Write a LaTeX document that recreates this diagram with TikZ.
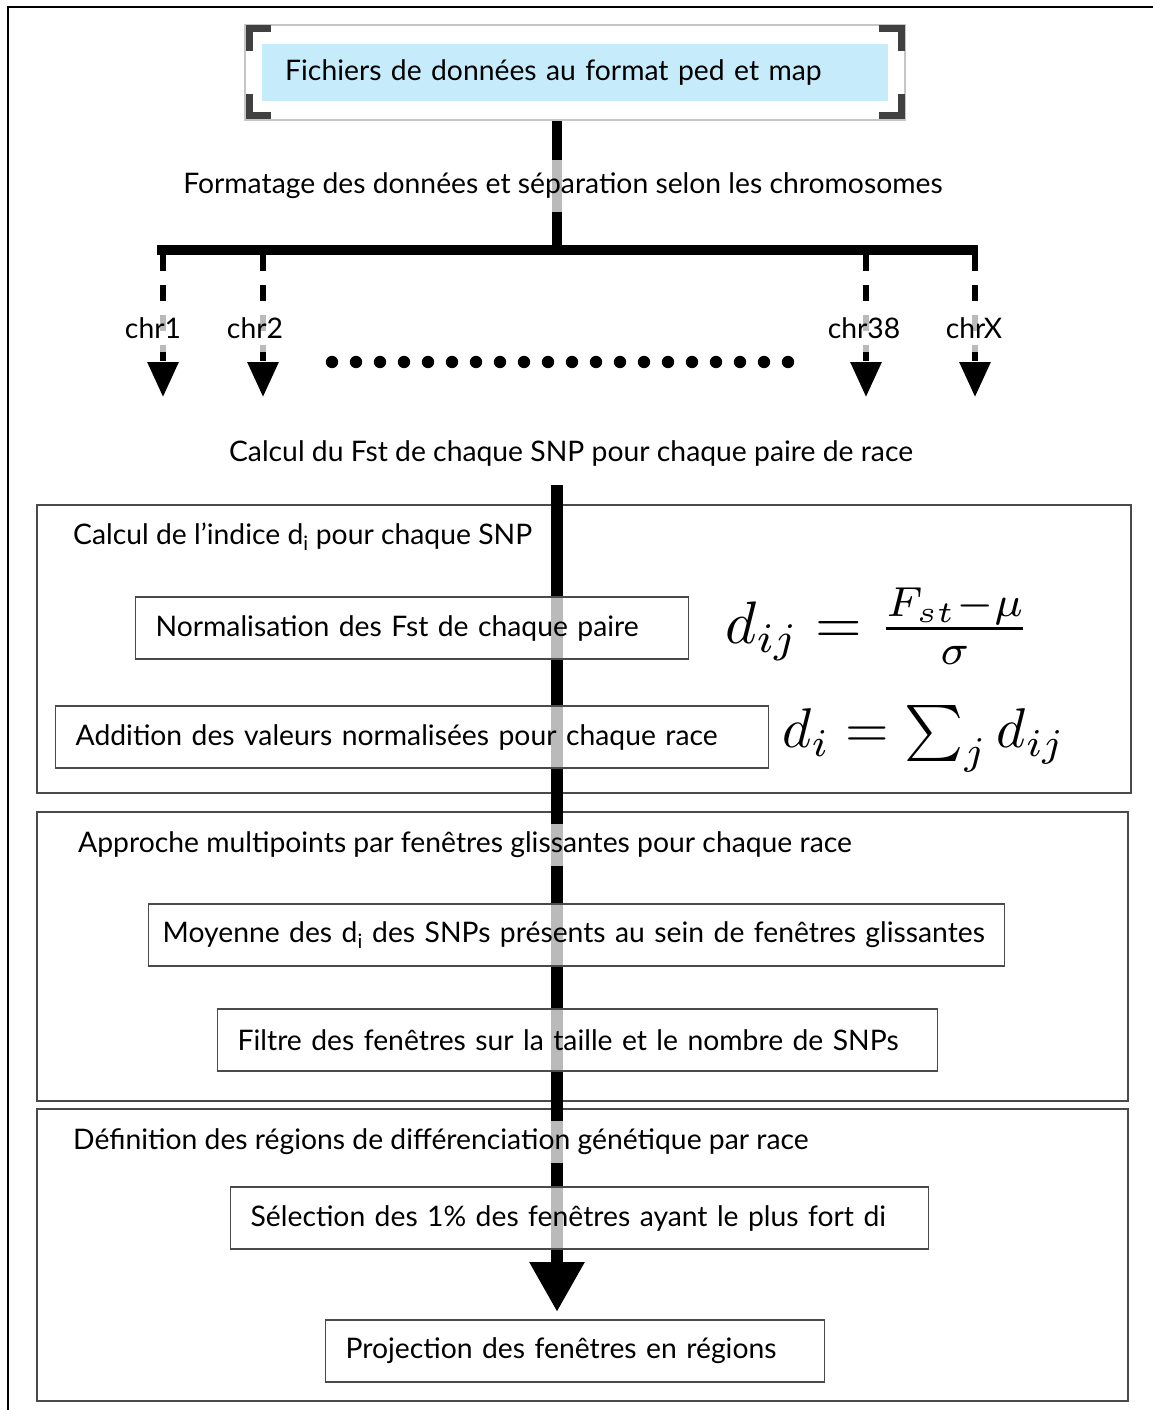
\documentclass[tikz,border=0pt]{standalone}
\usepackage[no-math]{fontspec}
\setmainfont{Lato}
\usetikzlibrary{arrows.meta,positioning}
\definecolor{skyblue}{HTML}{C6ECFB}
\definecolor{framegrey}{HTML}{4A4A4A}
\definecolor{cornergrey}{HTML}{404040}

\begin{document}
\begin{tikzpicture}[x=1pt,y=-1pt,
  every node/.style={font=\fontsize{28.3}{32}\selectfont},
  lbl/.style={fill=white,fill opacity=0.73,text opacity=1,inner xsep=6pt,inner ysep=13pt},
  title/.style={lbl,anchor=west,inner xsep=0pt,inner ysep=8pt},
  box/.style={draw=framegrey,line width=1.3pt,fill=white,fill opacity=0.73,text opacity=1,align=left,minimum height=62pt,inner xsep=20pt,anchor=west},
  sect/.style={draw=framegrey,line width=1.3pt},
  trunk/.style={line width=10pt},
  drop/.style={line width=6pt,dash pattern=on 16pt off 14pt,-{Triangle[length=35pt,width=30pt]}},
  mainarr/.style={line width=12pt,-{Triangle[length=50pt,width=52pt]}},
  formula/.style={font=\normalsize,inner sep=0pt}]
\useasboundingbox (0,0) rectangle (1153,1410);
\draw[line width=2pt] (1153,7) -- (8,7) -- (8,1410);

% stages
\draw[sect] (37,505) rectangle (1131,793);
\draw[sect] (37,812) rectangle (1128,1101);
\draw[sect] (37,1109) rectangle (1128,1401);

% trunk and split per chromosome
\coordinate (hub) at (557,250);
\coordinate (barL) at (157,250);
\coordinate (barR) at (978,250);
\draw[trunk] (557,118) -- (hub);
\draw[trunk] (barL) -- (barR);
\foreach \x/\n in {163/c1,263/c2,866/c38,975/cX}{
  \coordinate (top\n) at (\x,255);
  \coordinate (end\n) at (\x,397);
  \draw[drop] (top\n) -- (end\n);
}
\foreach \i in {0,...,19}
  \fill (332+\i*24,362) circle (6.2);

% main flow
\coordinate (mtop) at (557,485);
\coordinate (mend) at (557,1312);
\draw[mainarr] (mtop) -- (mend);

% source file
\draw[gray!45,line width=1.5pt,fill=white] (245,25) rectangle (905,120);
\foreach \cx/\cy/\dx/\dy in {249/29/1/1,901/29/-1/1,249/116/1/-1,901/116/-1/-1}
  \draw[cornergrey,line width=7pt] (\cx,\cy+\dy*22) -- (\cx,\cy) -- (\cx+\dx*22,\cy);
\node[fill=skyblue,anchor=west,text width=580pt,inner xsep=23pt,minimum height=57pt,align=left] (src) at (262,73) {Fichiers de données au format ped et map};

\node[lbl] (fmt) at (563,186) {Formatage des données et séparation selon les chromosomes};
\node[lbl] (l1) at (153,328) {chr1};
\node[lbl] (l2) at (255,328) {chr2};
\node[lbl] (l38) at (864,328) {chr38};
\node[lbl] (lX) at (974,328) {chrX};
\node[lbl] (fst) at (571,454) {Calcul du Fst de chaque SNP pour chaque paire de race};

% indice d_i
\node[title] (t1) at (73,537) {Calcul de l’indice d\textsubscript{i} pour chaque SNP};
\node[box,text width=513pt] (norm) at (135,628) {Normalisation des Fst de chaque paire};
\node[box,text width=673pt] (addi) at (55,737) {Addition des valeurs normalisées pour chaque race};
\node[formula] (fdij) at (878,626) {\scalebox{6}{$d_{ij} = \frac{F_{st}{-}\mu}{\sigma}$}};
\node[formula] (fdi) at (924,739) {\scalebox{5.6}{$d_i = \sum_j d_{ij}$}};

% fenetres glissantes
\node[title] (t2) at (78,845) {Approche multipoints par fenêtres glissantes pour chaque race};
\node[box,inner xsep=14pt,text width=828pt] (moy) at (148,935) {Moyenne des d\textsubscript{i} des SNPs présents au sein de fenêtres glissantes};
\node[box,text width=680pt] (filt) at (217,1040) {Filtre des fenêtres sur la taille et le nombre de SNPs};

% regions
\node[title] (t3) at (73,1142) {Définition des régions de différenciation génétique par race};
\node[box,text width=658pt] (sel) at (230,1218) {Sélection des 1\% des fenêtres ayant le plus fort di};
\node[box,text width=459pt] (proj) at (325,1351) {Projection des fenêtres en régions};
\end{tikzpicture}
\end{document}
